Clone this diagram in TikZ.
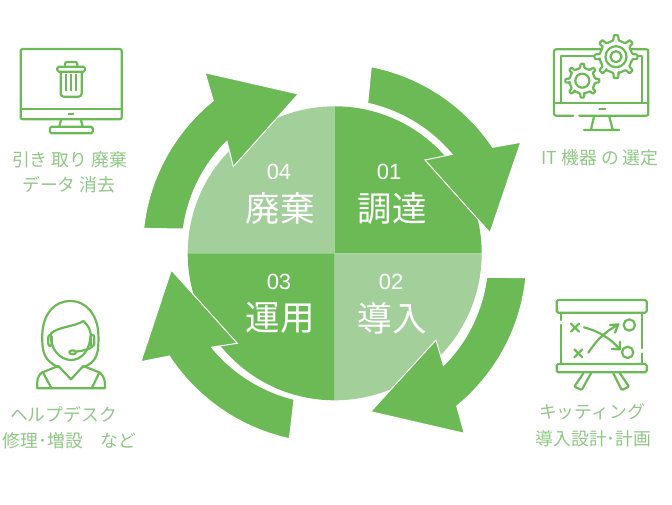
\documentclass[tikz,border=0pt]{standalone}
\usepackage{fontspec}
\setmainfont{Noto Sans CJK JP}
\newfontfamily\latinfont{Liberation Sans}
\definecolor{gdark}{HTML}{6BBA55}
\definecolor{glight}{HTML}{A3CF9B}
\definecolor{gtext}{HTML}{8FC884}
\tikzset{
  cyclearrow/.style={fill=gdark,draw=white,line width=1pt,line join=miter},
  numlabel/.style={text=white,inner sep=0pt,font=\latinfont\fontsize{22}{22}\selectfont},
  phaselabel/.style={text=white,inner sep=0pt,font=\fontsize{34.5}{34.5}\selectfont},
  sidelabel/.style={text=gtext,inner sep=0pt,font=\fontsize{17.8}{17.8}\selectfont},
  icon/.style={draw=gdark,line width=2.2pt,line cap=round,line join=round},
}
\newcommand{\gearshape}[5]{% x,y,R,r,ring
  \begin{scope}[shift={(#1,#2)}]
  \draw[icon,fill=white,rounded corners=0.8pt] (-9:#4)
    \foreach \a in {0,45,...,315}{ -- ({\a-9}:#4) -- ({\a-6}:#3) -- ({\a+6}:#3) -- ({\a+9}:#4) -- ({\a+36}:#4)} -- cycle;
  \draw[icon] (0,0) circle[radius=#5];
  \end{scope}}
\begin{document}
\begin{tikzpicture}[x=1pt,y=-1pt]
\useasboundingbox (0,0) rectangle (672,504);
% pie
\fill[glight] (334.7,253.3) -- (334.7,106.3) arc[start angle=-90,end angle=-180,radius=147] -- cycle;
\fill[gdark] (334.7,253.3) -- (334.7,106.3) arc[start angle=-90,end angle=0,radius=147] -- cycle;
\fill[glight] (334.7,253.3) -- (481.7,253.3) arc[start angle=0,end angle=90,radius=147] -- cycle;
\fill[gdark] (334.7,253.3) -- (334.7,400.3) arc[start angle=90,end angle=180,radius=147] -- cycle;
% arrows
\draw[cyclearrow] (367.7,103.3) arc[start angle=-77.6,end angle=-40,radius=153] -- (425,160) -- (490,232.7) -- (520.7,142.3) -- (492.7,147.3) arc[start angle=-33.9,end angle=-79,radius=190] -- cycle;
\draw[cyclearrow] (486.7,277.3) arc[start angle=7.3,end angle=44.9,radius=152.5] -- (436,340) -- (370.7,411.7) -- (464.3,433.3) -- (456.7,406) arc[start angle=50.8,end angle=5.8,radius=190.5] -- cycle;
\draw[cyclearrow] (294,399.3) arc[start angle=103.9,end angle=140.7,radius=154.5] -- (237.3,343.3) -- (171.3,270) -- (141,361.7) -- (169.3,356) arc[start angle=146.8,end angle=102.3,radius=192.5] -- cycle;
\draw[cyclearrow] (183.3,229) arc[start angle=187.6,end angle=225.3,radius=151.6] -- (233.3,166.7) -- (298.3,94) -- (205,72.7) -- (213.3,100.7) arc[start angle=231.1,end angle=186.1,radius=190] -- cycle;
% pie texts
\node[numlabel] (n1) at (389,172) {01};
\node[phaselabel] (p1) at (392,208) {調達};
\node[numlabel] (n2) at (391,282) {02};
\node[phaselabel] (p2) at (392,318) {導入};
\node[numlabel] (n3) at (279,282) {03};
\node[phaselabel] (p3) at (280,318) {運用};
\node[numlabel] (n4) at (279,172) {04};
\node[phaselabel] (p4) at (280,208) {廃棄};
% side texts
\node[sidelabel] (t1) at (69.5,160) {引き 取り 廃棄};
\node[sidelabel] (t2) at (68.7,185) {データ 消去};
\node[sidelabel] (t3) at (600,158) {IT 機器 の 選定};
\node[sidelabel] (t4) at (63.5,414) {ヘルプデスク};
\node[sidelabel] (t5) at (69.5,441) {修理･増設　など};
\node[sidelabel] (t6) at (592,412) {キッティング};
\node[sidelabel] (t7) at (593.5,439) {導入設計･計画};
% trash monitor
\begin{scope}[shift={(0,30)},scale=1/3]
\draw[icon,rounded corners=2pt] (62,57) rectangle (365,268);
\draw[icon] (62,238) -- (365,238);
\draw[icon,line width=1.8pt] (206,253) -- (220,253);
\draw[icon] (183,270) -- (178,290) (243,270) -- (248,290);
\draw[icon,rounded corners=1.5pt] (150,290) rectangle (278,310);
\draw[icon,rounded corners=1.5pt] (172,110) rectangle (255,125);
\draw[icon,rounded corners=1.5pt] (195,110) -- (195,96) -- (232,96) -- (232,110);
\draw[icon,rounded corners=3pt] (182,125) -- (182,200) -- (245,200) -- (245,125);
\draw[icon,line width=1.1pt] (198,133) -- (198,182) (213,133) -- (213,182) (228,133) -- (228,182);
\end{scope}
% gear monitor
\begin{scope}[shift={(520,20)},scale=1/3]
\draw[icon,rounded corners=2pt] (160,287) -- (102,287) -- (102,88) -- (385,88) -- (385,287) -- (178,287);
\draw[icon] (122,248) -- (122,108) -- (365,108) -- (365,248);
\draw[icon] (102,248) -- (385,248);
\draw[icon,line width=1.8pt] (238,267) -- (256,267);
\draw[icon] (222,290) -- (213,328) (268,290) -- (278,328) (192,330) -- (298,330);
\end{scope}
\gearshape{616}{56.7}{21.5}{16.5}{5.5}
\draw[icon] (616,56.7) circle[radius=10.5];
\gearshape{582.3}{80.7}{17}{13}{7}
% person
\begin{scope}[shift={(0,290)},scale=1/3]
\draw[icon] (175,232) .. controls (135,210) and (125,195) .. (127,130) .. controls (130,70) and (165,33) .. (210,33) .. controls (260,33) and (292,75) .. (295,130) .. controls (297,195) and (290,215) .. (250,232);
\draw[icon] (153,130) .. controls (148,175) and (180,210) .. (213,210) .. controls (245,210) and (272,180) .. (272,130) .. controls (268,110) and (258,100) .. (250,93) .. controls (225,110) and (175,110) .. (153,130);
\draw[icon,rounded corners=2pt] (145,135) rectangle (155,168);
\draw[icon,rounded corners=2pt] (272,135) rectangle (283,168);
\draw[icon] (278,168) .. controls (272,178) and (250,182) .. (228,185);
\draw[icon] (218,187) ellipse[x radius=10,y radius=6];
\draw[icon] (175,228) -- (125,248) .. controls (112,258) and (110,275) .. (112,295) -- (315,295) .. controls (317,275) and (312,258) .. (300,248) -- (250,228);
\draw[icon] (175,228) -- (213,268) -- (250,228);
\draw[icon] (130,250) -- (155,295) (297,250) -- (275,295);
\end{scope}
% board
\begin{scope}[shift={(520,290)},scale=1/3]
\draw[icon,rounded corners=1.5pt] (110,30) rectangle (380,68);
\draw[icon] (122,68) -- (122,90) (122,105) -- (122,222) (367,68) -- (367,175) (367,190) -- (367,222);
\draw[icon,rounded corners=1.5pt] (110,222) rectangle (380,247);
\draw[icon,rounded corners=1pt] (190,250) -- (163,290) -- (185,300) -- (213,250);
\draw[icon,rounded corners=1pt] (280,250) -- (305,300) -- (327,290) -- (300,250);
\draw[icon] (153,101) -- (177,125) (177,101) -- (153,125);
\draw[icon] (163,178) -- (187,202) (187,178) -- (163,202);
\draw[icon] (328,105) circle[radius=17];
\draw[icon] (323,187) circle[radius=17];
\draw[icon] (192,112) .. controls (240,125) and (270,145) .. (298,176);
\draw[icon] (275,177) -- (300,178) -- (300,155);
\draw[icon] (205,188) .. controls (230,150) and (255,125) .. (293,105);
\draw[icon] (270,105) -- (295,103) -- (285,128);
\end{scope}
\end{tikzpicture}
\end{document}
